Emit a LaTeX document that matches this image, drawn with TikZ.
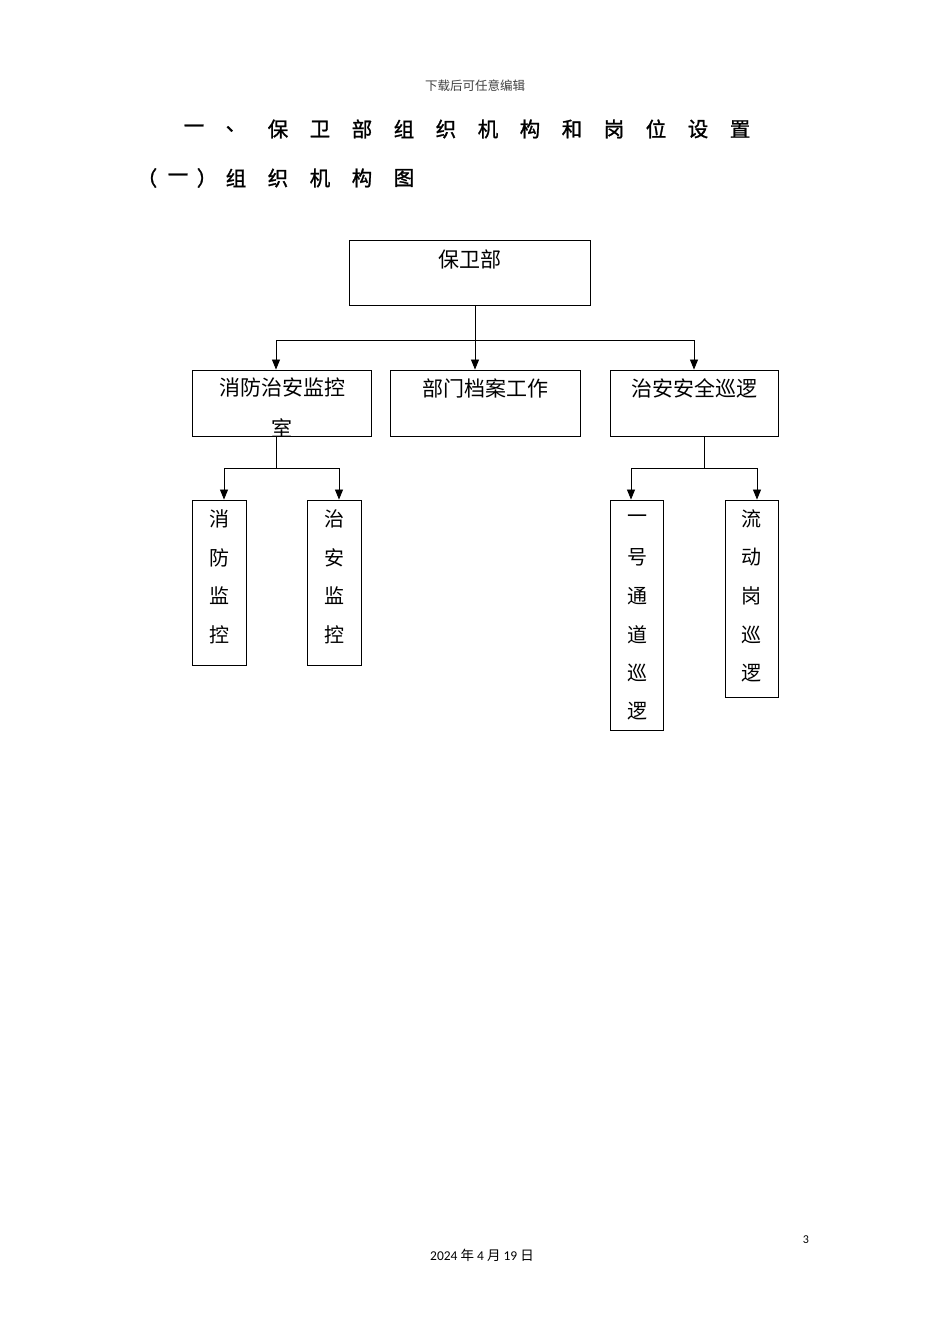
\documentclass[tikz,border=0pt]{standalone}
\usepackage{fontspec}
\setmainfont{Carlito}
\newfontfamily\cjk{Noto Sans CJK SC}
\newfontfamily\cjkb[FakeBold=1.2]{Noto Sans CJK SC}
\usetikzlibrary{positioning,arrows.meta}

\begin{document}
\begin{tikzpicture}[x=1pt,y=-1pt,
    box/.style={draw,line width=0.9pt,inner sep=0pt},
    lbl/.style={font=\cjk\fontsize{21}{25}\selectfont,inner sep=0pt},
    vch/.style={font=\cjk\fontsize{20}{24}\selectfont,inner sep=0pt},
    ttl/.style={font=\cjkb\fontsize{20.5}{24}\selectfont,inner sep=0pt},
    arr/.style={-{Triangle[length=10pt,width=8pt]},line width=0.8pt},
    con/.style={line width=0.8pt}]
    \useasboundingbox (0,0) rectangle (950,1344);
    % header and title
    \node[font=\cjk\fontsize{12.5}{15}\selectfont,text=black!75,inner sep=0pt] (hdr) at (475,86) {下载后可任意编辑};
    \foreach \c [count=\i from 0] in {一,、,保,卫,部,组,织,机,构,和,岗,位,设,置}
        \node[ttl] (ta\i) at (194+42*\i,129) {\c};
    \foreach \c/\x [count=\i] in {（/147,一/178,）/207,组/236,织/278,机/320,构/362,图/404}
        \node[ttl] (tb\i) at (\x,178) {\c};
    % boxes
    \node[box,minimum width=241,minimum height=65] (bwb) at (469.5,272.5) {};
    \node[lbl] (bwbt) at (470,259) {保卫部};
    \node[box,minimum width=179,minimum height=66] (xf) at (281.5,403) {};
    \node[box,minimum width=190,minimum height=66] (bm) at (485,403) {};
    \node[lbl] (bmt) at (485,388) {部门档案工作};
    \node[box,minimum width=168,minimum height=66] (za) at (694,403) {};
    \node[lbl] (zat) at (694,388) {治安安全巡逻};
    \begin{scope}
        \clip (xf.north west) rectangle (xf.south east);
        \node[lbl] (xft) at (282,388) {消防治安监控};
        \node[lbl] (xfs) at (282,428) {室};
    \end{scope}
    \node[box,minimum width=54,minimum height=165] (xj) at (219,582.5) {};
    \node[box,minimum width=54,minimum height=165] (zj) at (334,582.5) {};
    \node[box,minimum width=53,minimum height=230] (yh) at (636.5,615) {};
    \node[box,minimum width=53,minimum height=197] (ld) at (751.5,598.5) {};
    \foreach \c [count=\i] in {消,防,监,控}
        \node[vch] (xj\i) at (219,480.5+38.5*\i) {\c};
    \foreach \c [count=\i] in {治,安,监,控}
        \node[vch] (zj\i) at (334,480.5+38.5*\i) {\c};
    \foreach \c [count=\i] in {一,号,通,道,巡,逻}
        \node[vch] (yh\i) at (637,480.5+38.5*\i) {\c};
    \foreach \c [count=\i] in {流,动,岗,巡,逻}
        \node[vch] (ld\i) at (751,480.5+38.5*\i) {\c};
    % connectors
    \coordinate (trk) at ([xshift=5.5]bwb.south);
    \coordinate (j1) at (475,340);
    \coordinate (xfin) at ([xshift=-5.5]xf.north);
    \coordinate (bmin) at ([xshift=-10]bm.north);
    \coordinate (zain) at ([xshift=0]za.north);
    \draw[con] (trk) -- (j1);
    \draw[con] (xfin |- j1) -- (zain |- j1);
    \foreach \t in {xfin,bmin,zain}
        \draw[arr] (\t |- j1) -- (\t);
    \coordinate (xfo) at ([xshift=-5]xf.south);
    \coordinate (j2) at (276,468);
    \coordinate (xjin) at ([xshift=5]xj.north);
    \coordinate (zjin) at ([xshift=5]zj.north);
    \draw[con] (xfo) -- (xfo |- j2);
    \draw[con] (xjin |- j2) -- (zjin |- j2);
    \foreach \t in {xjin,zjin}
        \draw[arr] (\t |- j2) -- (\t);
    \coordinate (zao) at ([xshift=10]za.south);
    \coordinate (j3) at (704,468);
    \coordinate (yhin) at ([xshift=-5.5]yh.north);
    \coordinate (ldin) at ([xshift=5.5]ld.north);
    \draw[con] (zao) -- (zao |- j3);
    \draw[con] (yhin |- j3) -- (ldin |- j3);
    \foreach \t in {yhin,ldin}
        \draw[arr] (\t |- j3) -- (\t);
    % footer
    \node[font=\fontsize{12}{14}\selectfont,inner sep=0pt] (pg) at (806,1240) {3};
    \node[font=\fontsize{13.5}{16}\selectfont,inner sep=0pt] (dt) at (482,1255) {2024 {\cjk 年} 4 {\cjk 月} 19 {\cjk 日}};
\end{tikzpicture}
\end{document}
